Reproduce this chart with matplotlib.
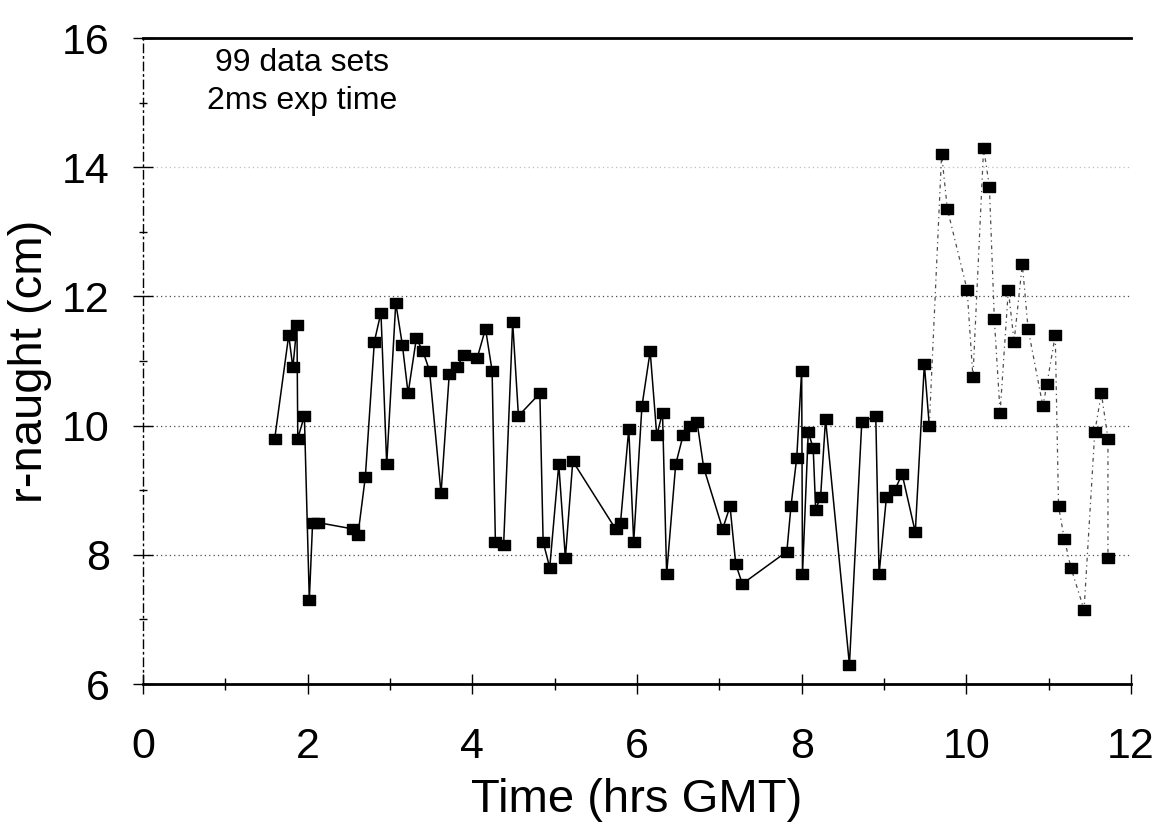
import matplotlib.pyplot as plt
import numpy as np
from matplotlib.ticker import MultipleLocator

time_hr = [
    1.60, 1.77, 1.82, 1.87, 1.88, 1.96, 2.02, 2.06, 2.12, 2.55,
    2.61, 2.70, 2.81, 2.89, 2.96, 3.07, 3.15, 3.22, 3.32, 3.40,
    3.48, 3.62, 3.72, 3.81, 3.90, 4.06, 4.16, 4.24, 4.28, 4.38,
    4.49, 4.56, 4.82, 4.86, 4.94, 5.05, 5.13, 5.22, 5.74, 5.80,
    5.90, 5.96, 6.06, 6.16, 6.24, 6.31, 6.36, 6.47, 6.56, 6.64,
    6.73, 6.81, 7.04, 7.13, 7.20, 7.28, 7.82, 7.87, 7.94, 8.00,
    8.01, 8.08, 8.14, 8.17, 8.23, 8.29, 8.58, 8.73, 8.90, 8.94,
    9.03, 9.13, 9.22, 9.38, 9.49, 9.55, 9.70, 9.77, 10.01, 10.08,
    10.21, 10.28, 10.34, 10.41, 10.51, 10.58, 10.68, 10.75, 10.93, 10.98,
    11.08, 11.12, 11.19, 11.27, 11.43, 11.56, 11.64, 11.72, 11.72,
]
r0_cm = [
    9.80, 11.40, 10.90, 11.55, 9.80, 10.15, 7.30, 8.50, 8.50, 8.40,
    8.30, 9.20, 11.30, 11.75, 9.40, 11.90, 11.25, 10.50, 11.35, 11.15,
    10.85, 8.95, 10.80, 10.90, 11.10, 11.05, 11.50, 10.85, 8.20, 8.15,
    11.60, 10.15, 10.50, 8.20, 7.80, 9.40, 7.95, 9.45, 8.40, 8.50,
    9.95, 8.20, 10.30, 11.15, 9.85, 10.20, 7.70, 9.40, 9.85, 10.00,
    10.05, 9.35, 8.40, 8.75, 7.85, 7.55, 8.05, 8.75, 9.50, 10.85,
    7.70, 9.90, 9.65, 8.70, 8.90, 10.10, 6.30, 10.05, 10.15, 7.70,
    8.90, 9.00, 9.25, 8.35, 10.95, 10.00, 14.20, 13.35, 12.10, 10.75,
    14.30, 13.70, 11.65, 10.20, 12.10, 11.30, 12.50, 11.50, 10.30, 10.65,
    11.40, 8.75, 8.25, 7.80, 7.15, 9.90, 10.50, 9.80, 7.95,
]
note_lines = ["99 data sets", "2ms exp time"]

time_hr = np.array(time_hr)
r0_cm = np.array(r0_cm)
n_solid = int(np.sum(time_hr <= 9.55))

plt.rcParams["font.family"] = ["Liberation Sans", "DejaVu Sans"]

fig = plt.figure(figsize=(11.57, 8.34), dpi=100)
ax = fig.add_axes([143 / 1157, 1 - 684 / 834, 988 / 1157, 646 / 834])

# faint dotted gridlines
for lvl, col in [(8, "0.3"), (10, "0.3"), (12, "0.3"), (14, "0.75")]:
    ax.axhline(lvl, color=col, linestyle=(0, (1, 2.5)), lw=0.9, zorder=1)

rect = [(-1.3, -1), (1.3, -1), (1.3, 1), (-1.3, 1), (-1.3, -1)]
ax.plot(time_hr[:n_solid], r0_cm[:n_solid], "-", color="k", lw=1.1, zorder=2)
ax.plot(time_hr[n_solid - 1:], r0_cm[n_solid - 1:], color="0.3", lw=0.9,
        linestyle=(0, (3, 3, 1, 3)), zorder=2)
ax.plot(time_hr, r0_cm, linestyle="none", marker=rect, ms=9, color="k", zorder=3)

ax.set_xlim(0, 12)
ax.set_ylim(6, 16)
ax.xaxis.set_major_locator(MultipleLocator(2))
ax.xaxis.set_minor_locator(MultipleLocator(1))
ax.yaxis.set_major_locator(MultipleLocator(2))
ax.yaxis.set_minor_locator(MultipleLocator(1))

ax.tick_params(axis="x", which="major", direction="inout", length=14, width=1,
               labelsize=31, pad=24)
ax.tick_params(axis="x", which="minor", direction="inout", length=9, width=1)
ax.tick_params(axis="y", which="major", direction="inout", length=14, width=1,
               labelsize=31, pad=17)
ax.tick_params(axis="y", which="minor", direction="inout", length=6, width=1)

ax.spines["right"].set_visible(False)
ax.spines["top"].set_linewidth(2)
ax.spines["bottom"].set_linewidth(2)
ax.spines["left"].set_linewidth(1)
ax.spines["left"].set_linestyle((0, (6, 3, 1, 3)))

ax.set_xlabel("Time (hrs GMT)", fontsize=34)
ax.set_ylabel("r-naught (cm)", fontsize=34)
ax.xaxis.set_label_coords(0.5, -0.145)
ax.yaxis.set_label_coords(-0.092, 0.5)

ax.text(1.93, 15.62, note_lines[0], fontsize=23, ha="center", va="center")
ax.text(1.93, 15.02, note_lines[1], fontsize=23, ha="center", va="center")

fig.savefig("out.png", dpi=100)
